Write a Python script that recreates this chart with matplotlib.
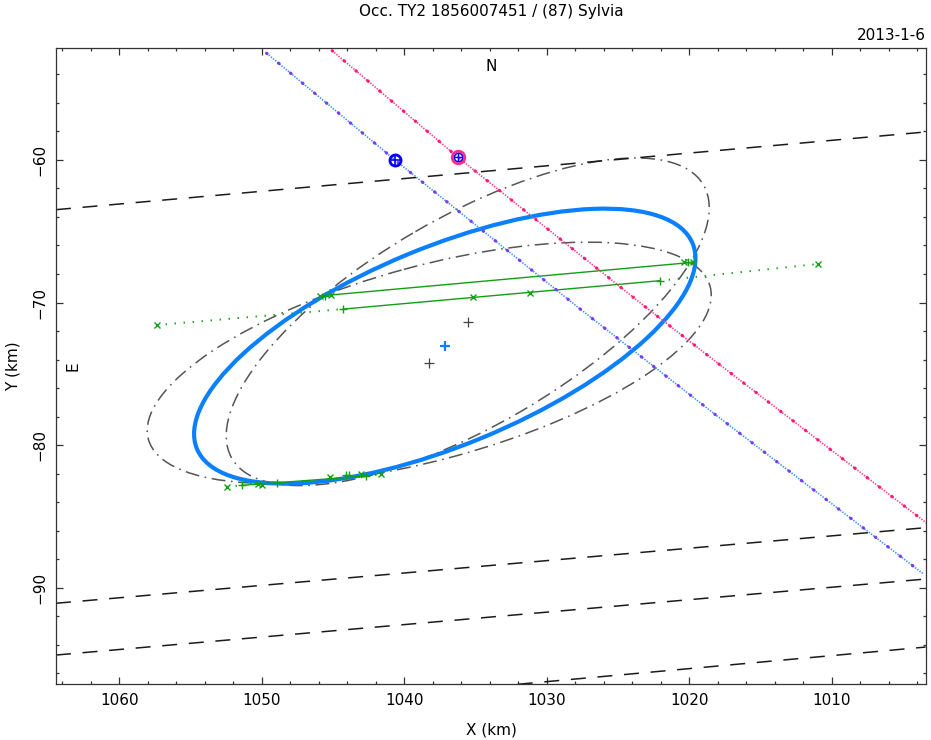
import matplotlib
matplotlib.use('Agg')
import matplotlib.pyplot as plt
from matplotlib.patches import Ellipse
from matplotlib.ticker import MultipleLocator

# fitted profile and the two limit profiles: centre x, centre y, semi-major, semi-minor, angle
fit_ellipse = (1037.16, -73.06, 18.82, 6.94, 157.5)
limit_ellipses = [(1035.55, -71.35, 19.12, 7.31, 149.9),
                  (1038.25, -74.23, 20.42, 6.79, 164.8)]

# dashed path limit lines (x0, y0, x1, y1)
path_lines = [(1064.44, -63.49, 1003.43, -58.04),
              (1064.44, -91.09, 1003.43, -85.79),
              (1064.44, -94.72, 1003.43, -89.39),
              (1032.04, -96.77, 1003.43, -94.16)]

# observer tracks
blue_track_x = [1049.66, 1040.65, 1027.81, 1018.23, 1003.57]
blue_track_y = [-52.52, -60.01, -70.34, -77.82, -89.04]
pink_track_x = [1045.06, 1036.23, 1029.21, 1023.25, 1018.00, 1003.34]
pink_track_y = [-52.34, -59.82, -65.43, -70.18, -74.26, -85.48]
blue_mark = (1040.65, -60.01)
pink_mark = (1036.23, -59.82)

# chords: solid parts and dotted parts
chord_solid = [((1045.91, 1019.73), (-69.54, -67.18)),
               ((1044.29, 1022.08), (-70.46, -68.47)),
               ((1051.42, 1042.68), (-82.82, -82.17))]
chord_dotted = [((1057.38, 1044.29), (-71.58, -70.46)),
                ((1022.08, 1011.00), (-68.47, -67.30)),
                ((1052.47, 1051.42), (-82.92, -82.82)),
                ((1042.68, 1041.65), (-82.17, -82.05))]
cross_x = [1045.91, 1045.16, 1020.36, 1019.73, 1057.38, 1035.18, 1031.20, 1011.00,
           1052.47, 1050.25, 1050.01, 1045.22, 1043.07, 1041.65]
cross_y = [-69.54, -69.47, -67.19, -67.18, -71.58, -69.64, -69.31, -67.30,
           -82.92, -82.76, -82.78, -82.22, -81.99, -82.05]
plus_x = [1045.56, 1020.08, 1044.29, 1022.08, 1051.42, 1048.96, 1044.08, 1043.87, 1042.68]
plus_y = [-69.54, -67.19, -70.46, -68.47, -82.82, -82.69, -82.11, -82.10, -82.17]

plt.rcParams['lines.scale_dashes'] = False
plt.rcParams['font.family'] = ['DejaVu Sans']
plt.rcParams['font.size'] = 11

fig = plt.figure(figsize=(9.31, 7.4), dpi=100)
ax = fig.add_axes([0.0601, 0.0753, 0.9345, 0.8595])

for x0, y0, x1, y1 in path_lines:
    ax.plot([x0, x1], [y0, y1], color='#1a1a1a', lw=1.1, ls=(0, (10.8, 8.4)))

for cx, cy, a, b, ang in limit_ellipses:
    ax.add_patch(Ellipse((cx, cy), 2 * a, 2 * b, angle=ang, fill=False, color='#555555',
                         lw=1.1, ls=(0, (10, 4, 1.2, 4))))
    ax.plot(cx, cy, '+', color='#444444', ms=7, mew=0.9)

cx, cy, a, b, ang = fit_ellipse
ax.add_patch(Ellipse((cx, cy), 2 * a, 2 * b, angle=ang, fill=False, color='#0a80ff', lw=3, zorder=3))
ax.plot(cx, cy, '+', color='#0a80ff', ms=7, mew=1.6)

for xs, ys in chord_solid:
    ax.plot(xs, ys, color='#12a012', lw=1.0, zorder=4)
for xs, ys in chord_dotted:
    ax.plot(xs, ys, color='#12a012', lw=1.4, ls=(0, (1.0, 5.5)), zorder=4)
ax.plot(cross_x, cross_y, 'x', color='#12a012', ms=5, mew=1.0, ls='none', zorder=5)
ax.plot(plus_x, plus_y, '+', color='#12a012', ms=6, mew=1.0, ls='none', zorder=5)

# fine dotted track lines with the one-second dots on top
ax.plot(blue_track_x, blue_track_y, color='#3d90ff', lw=1.2, ls=(0, (1.0, 1.0)), zorder=4)
ax.plot(blue_track_x, blue_track_y, color='#7a3cf0', lw=2.3, ls=(0, (0.4, 10.8)),
        dash_capstyle='round', zorder=4)
ax.plot(pink_track_x, pink_track_y, color='#ff3d8b', lw=1.2, ls=(0, (1.0, 1.0)), zorder=4)
ax.plot(pink_track_x, pink_track_y, color='#ff1a7a', lw=2.3, ls=(0, (0.4, 10.8)),
        dash_capstyle='round', zorder=4)

ax.plot(*blue_mark, 'o', ms=8, mfc='none', mec='#0000ff', mew=2, zorder=6)
ax.plot(*blue_mark, '+', ms=8, color='#0000ff', mew=1.2, zorder=6)
ax.plot(*pink_mark, 'o', ms=9, mfc='none', mec='#ff2a8a', mew=2, zorder=6)
ax.plot(*pink_mark, 'o', ms=6, mfc='none', mec='#0000ff', mew=1, zorder=6)
ax.plot(*pink_mark, '+', ms=6, color='#0000ff', mew=1, zorder=6)

ax.set_xlim(1064.44, 1003.4)
ax.set_ylim(-96.77, -52.17)
ax.xaxis.set_major_locator(MultipleLocator(10))
ax.xaxis.set_minor_locator(MultipleLocator(2))
ax.yaxis.set_major_locator(MultipleLocator(10))
ax.yaxis.set_minor_locator(MultipleLocator(2))
ax.tick_params(which='both', direction='in', top=True, right=True, width=0.9, color='#333333')
ax.tick_params(which='major', length=5)
ax.tick_params(axis='x', which='major', pad=6)
ax.tick_params(axis='y', which='major', pad=6)
ax.tick_params(which='minor', length=2.5)
for lab in ax.get_yticklabels():
    lab.set_rotation(90)
    lab.set_va('center')
for sp in ax.spines.values():
    sp.set_linewidth(0.9)
    sp.set_color('#333333')

ax.set_xlabel('X (km)', labelpad=11)
ax.set_ylabel('Y (km)', labelpad=9)
ax.text(0.5, 0.972, 'N', transform=ax.transAxes, ha='center', va='center')
ax.text(0.0195, 0.4994, 'E', transform=ax.transAxes, ha='center', va='center', rotation=90)
fig.text(0.5274, 0.9838, 'Occ. TY2 1856007451 / (87) Sylvia', ha='center', va='center')
fig.text(0.9947, 0.9527, '2013-1-6', ha='right', va='center')

fig.savefig('out.png')
